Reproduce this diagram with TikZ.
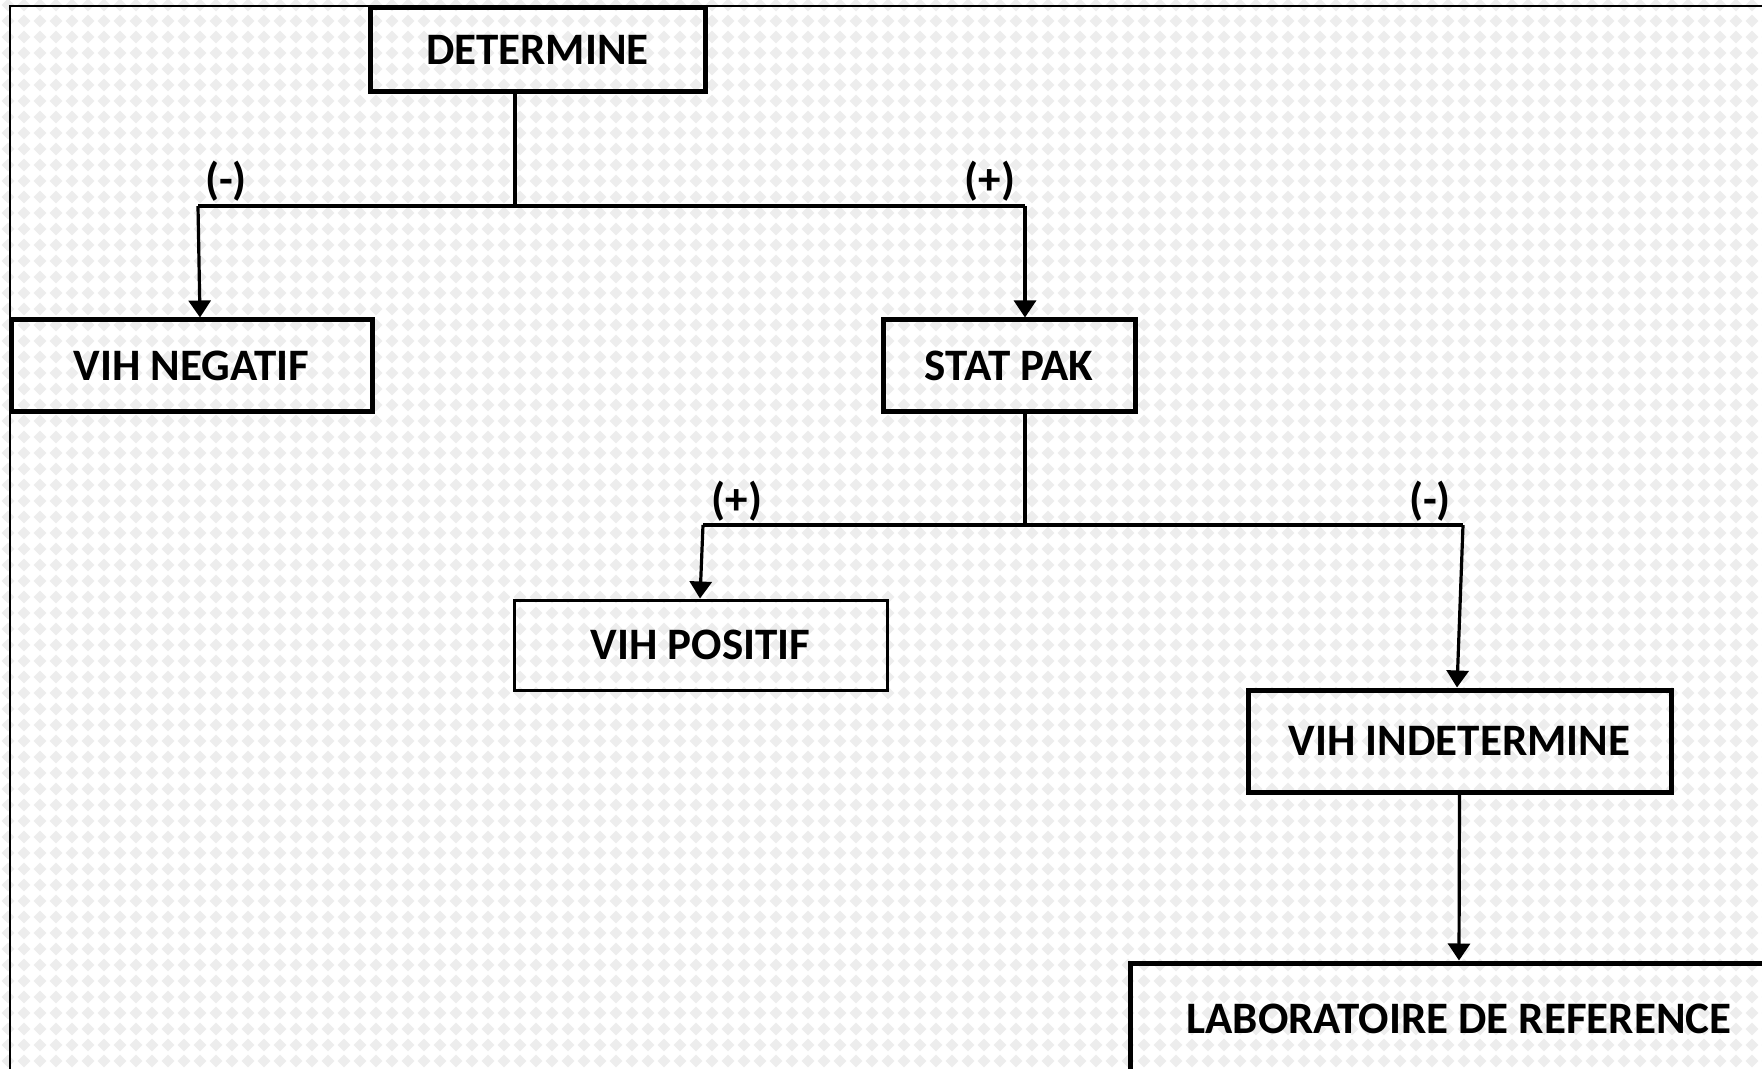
\documentclass[tikz,border=0pt]{standalone}
\usepackage{fontspec}
\setmainfont{Carlito}
\usetikzlibrary{arrows.meta,patterns}
\pgfdeclarepatternformonly{diamondgrid}{\pgfpoint{-1pt}{-1pt}}{\pgfpoint{9pt}{9pt}}{\pgfpoint{8pt}{8pt}}{%
  \pgfpathmoveto{\pgfpoint{4pt}{0.8pt}}%
  \pgfpathlineto{\pgfpoint{7.2pt}{4pt}}%
  \pgfpathlineto{\pgfpoint{4pt}{7.2pt}}%
  \pgfpathlineto{\pgfpoint{0.8pt}{4pt}}%
  \pgfpathclose\pgfusepath{fill}}
\tikzset{
  txt/.style={font=\bfseries\fontsize{22.5}{27}\selectfont},
  boxthick/.style={draw=black, line width=2.5pt, inner sep=0pt, txt},
  boxthin/.style={draw=black, line width=1.5pt, inner sep=0pt, txt},
  conn/.style={draw=black, line width=1.6pt},
  arr/.style={conn, -{Triangle[width=11pt,length=8.5pt]}},
  lbl/.style={inner sep=0pt, txt},
}
\begin{document}
\begin{tikzpicture}[x=0.5pt,y=-0.5pt]
\useasboundingbox (0,0) rectangle (1762,1069);
\fill[white] (0,0) rectangle (1762,1069);
\fill[pattern=diamondgrid, pattern color=black!7] (0,0) rectangle (1762,1069);
\draw[line width=0.8pt] (10,1100) -- (10,6) -- (1800,6);

\node[boxthick, minimum width=167.5pt, minimum height=42pt] (det) at (537.5,50) {DETERMINE};
\node[boxthick, minimum width=180.5pt, minimum height=46pt] (neg) at (191.5,366) {VIH NEGATIF};
\node[boxthick, minimum width=126pt, minimum height=46pt] (stat) at (1009,366) {STAT PAK};
\node[boxthin, minimum width=186.5pt, minimum height=45pt] (pos) at (700.5,645) {VIH POSITIF};
\node[boxthick, minimum width=211.5pt, minimum height=51pt] (ind) at (1459.5,741) {VIH INDETERMINE};
\node[boxthick, minimum width=329pt, minimum height=56pt] (lab) at (1459,1019) {LABORATOIRE DE REFERENCE};

\coordinate (j1) at (515,206);
\coordinate (l1) at (198,206);
\coordinate (r1) at (1025,206);
\coordinate (j2) at (1025,525);
\coordinate (l2) at (703,525);
\coordinate (r2) at (1463,525);

\draw[conn] (det.south -| j1) -- (j1);
\draw[conn] (l1) -- (r1);
\draw[arr] (l1) -- ([xshift=1pt]l1 |- neg.north);
\draw[arr] (r1) -- (r1 |- stat.north);
\draw[conn] (stat.south -| j2) -- (j2);
\draw[conn] (l2) -- (r2);
\draw[arr] (l2) -- ([xshift=-1.5pt]l2 |- pos.north);
\draw[arr] (r2) -- ([xshift=-3pt]r2 |- ind.north);
\draw[arr] (ind.south) -- (lab.north);

\node[lbl] (m1) at (226,181) {(-)};
\node[lbl] (p1) at (990,181) {(+)};
\node[lbl] (p2) at (737,501) {(+)};
\node[lbl] (m2) at (1430,501) {(-)};
\end{tikzpicture}
\end{document}
